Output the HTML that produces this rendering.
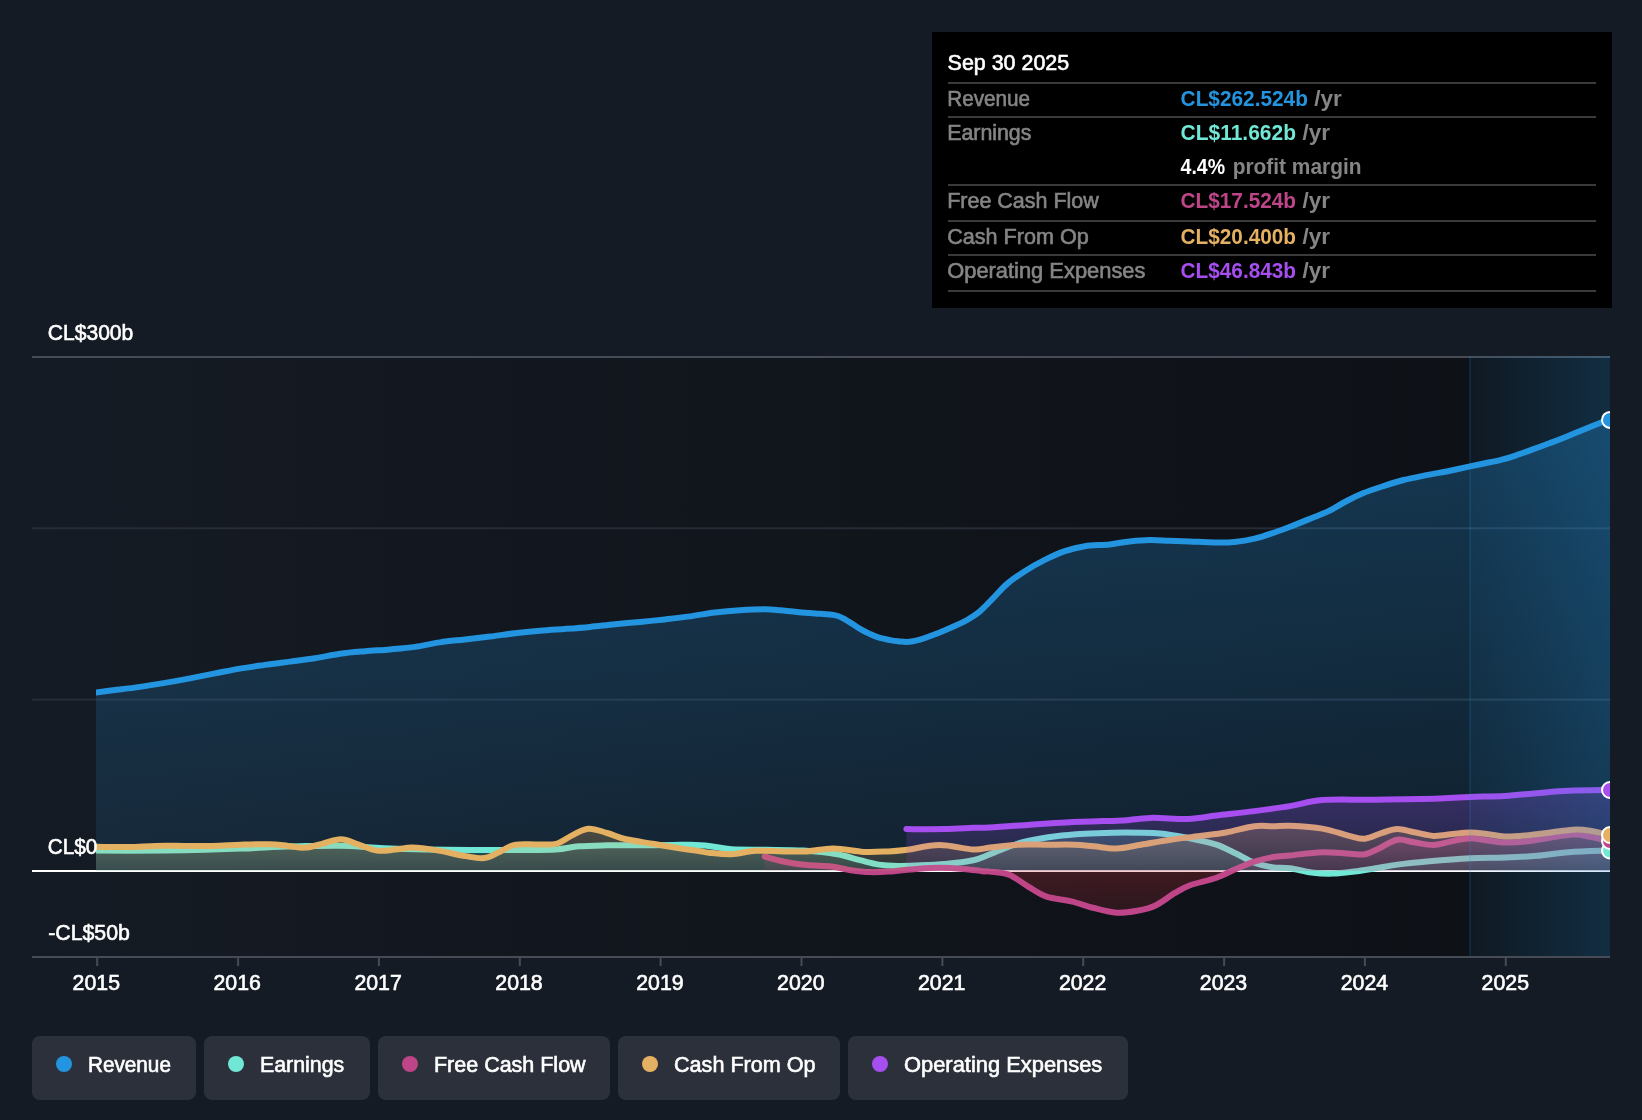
<!DOCTYPE html>
<html><head><meta charset="utf-8"><title>chart</title>
<style>html,body{margin:0;padding:0;background:#151b24;}body{width:1642px;height:1120px;overflow:hidden;position:relative;font-family:"Liberation Sans",sans-serif;}</style>
</head><body>
<svg width="1642" height="1120" viewBox="0 0 1642 1120" style="position:absolute;left:0;top:0;font-family:'Liberation Sans',sans-serif">
<defs>
<linearGradient id="gbg" x1="0" x2="1" y1="0" y2="0"><stop offset="0" stop-color="#151b24"/><stop offset="0.5" stop-color="#11151c"/><stop offset="1" stop-color="#0d1015"/></linearGradient>
<linearGradient id="ghl" x1="0" x2="1" y1="0" y2="0"><stop offset="0" stop-color="#2394df" stop-opacity="0.06"/><stop offset="1" stop-color="#2394df" stop-opacity="0.22"/></linearGradient>
<linearGradient id="grev" x1="0" x2="0" y1="0" y2="1"><stop offset="0" stop-color="#2394df" stop-opacity="0.30"/><stop offset="1" stop-color="#2394df" stop-opacity="0.11"/></linearGradient>
<linearGradient id="gearn" gradientUnits="userSpaceOnUse" x1="0" x2="0" y1="830" y2="871"><stop offset="0" stop-color="#71e7d6" stop-opacity="0.24"/><stop offset="1" stop-color="#71e7d6" stop-opacity="0.12"/></linearGradient>
<linearGradient id="gcash" gradientUnits="userSpaceOnUse" x1="0" x2="0" y1="825" y2="871"><stop offset="0" stop-color="#e4b062" stop-opacity="0.28"/><stop offset="1" stop-color="#e4b062" stop-opacity="0.12"/></linearGradient>
<linearGradient id="gfcf" gradientUnits="userSpaceOnUse" x1="0" x2="0" y1="835" y2="871"><stop offset="0" stop-color="#be4688" stop-opacity="0.24"/><stop offset="1" stop-color="#be4688" stop-opacity="0.10"/></linearGradient>
<linearGradient id="gopex" gradientUnits="userSpaceOnUse" x1="0" x2="0" y1="790" y2="871"><stop offset="0" stop-color="#a64ef0" stop-opacity="0.27"/><stop offset="1" stop-color="#a64ef0" stop-opacity="0.10"/></linearGradient>
<linearGradient id="gneg" gradientUnits="userSpaceOnUse" x1="0" x2="0" y1="871" y2="915"><stop offset="0" stop-color="#e0303a" stop-opacity="0.23"/><stop offset="1" stop-color="#e0303a" stop-opacity="0.13"/></linearGradient>
<clipPath id="cp"><rect x="96" y="300" width="1514" height="700"/></clipPath>
<clipPath id="cpos"><rect x="32" y="300" width="1578" height="571"/></clipPath>
<clipPath id="cneg"><rect x="32" y="870" width="1578" height="200"/></clipPath>
</defs>
<rect width="1642" height="1120" fill="#151b24"/>
<rect x="32" y="357" width="1578" height="600" fill="url(#gbg)"/>
<rect x="32" y="356" width="1578" height="2" fill="#464b55"/>
<rect x="32" y="527.3" width="1578" height="2" fill="#272c36"/>
<rect x="32" y="698.6" width="1578" height="2" fill="#272c36"/>
<rect x="32" y="956" width="1578" height="2" fill="#464b55"/>
<rect x="96.2" y="957" width="2" height="9" fill="#464b55"/>
<rect x="237.1" y="957" width="2" height="9" fill="#464b55"/>
<rect x="377.9" y="957" width="2" height="9" fill="#464b55"/>
<rect x="518.8" y="957" width="2" height="9" fill="#464b55"/>
<rect x="659.6" y="957" width="2" height="9" fill="#464b55"/>
<rect x="800.5" y="957" width="2" height="9" fill="#464b55"/>
<rect x="941.4" y="957" width="2" height="9" fill="#464b55"/>
<rect x="1082.2" y="957" width="2" height="9" fill="#464b55"/>
<rect x="1223.1" y="957" width="2" height="9" fill="#464b55"/>
<rect x="1363.9" y="957" width="2" height="9" fill="#464b55"/>
<rect x="1504.8" y="957" width="2" height="9" fill="#464b55"/>
<rect x="32" y="870" width="1578" height="2" fill="#ffffff"/>
<g clip-path="url(#cp)" fill="none" stroke-width="6" stroke-linecap="round" stroke-linejoin="round">
<path d="M96.0,692.4C99.2,692.0 107.7,691.0 115.0,690.1C122.3,689.2 131.7,688.1 140.0,686.9C148.3,685.7 156.7,684.3 165.0,682.9C173.3,681.5 181.7,680.0 190.0,678.4C198.3,676.8 206.7,675.0 215.0,673.4C223.3,671.8 231.7,670.0 240.0,668.6C248.3,667.2 256.7,666.1 265.0,664.9C273.3,663.7 281.7,662.7 290.0,661.6C298.3,660.5 306.7,659.5 315.0,658.2C323.3,656.9 331.7,654.9 340.0,653.7C348.3,652.5 356.7,651.9 365.0,651.2C373.3,650.5 381.7,650.1 390.0,649.4C398.3,648.7 406.7,648.1 415.0,646.9C423.3,645.7 431.7,643.6 440.0,642.4C448.3,641.1 456.7,640.4 465.0,639.4C473.3,638.4 481.7,637.6 490.0,636.6C498.3,635.6 506.7,634.2 515.0,633.2C523.3,632.2 531.7,631.4 540.0,630.7C548.3,630.0 556.7,629.5 565.0,628.9C573.3,628.3 581.7,627.7 590.0,626.9C598.3,626.1 606.7,625.0 615.0,624.2C623.3,623.4 631.7,622.7 640.0,621.9C648.3,621.1 656.7,620.3 665.0,619.4C673.3,618.5 681.7,617.6 690.0,616.4C698.3,615.2 706.7,613.4 715.0,612.4C723.3,611.4 731.7,610.7 740.0,610.2C748.3,609.7 758.3,609.3 765.0,609.3C771.7,609.3 774.7,609.8 780.0,610.3C785.3,610.8 791.2,611.6 797.0,612.1C802.8,612.6 809.5,613.0 815.0,613.4C820.5,613.8 826.2,614.1 830.0,614.5C833.8,614.9 835.5,615.2 838.0,616.0C840.5,616.8 842.5,618.0 845.0,619.4C847.5,620.8 850.1,622.5 853.0,624.3C855.9,626.1 859.5,628.6 862.3,630.2C865.1,631.8 867.6,632.9 870.0,634.0C872.4,635.1 874.5,636.0 876.9,636.8C879.3,637.6 882.1,638.3 884.5,638.9C886.9,639.5 889.1,640.0 891.5,640.4C893.9,640.8 896.5,641.1 899.0,641.4C901.5,641.6 903.9,641.9 906.2,641.9C908.5,641.9 910.6,641.6 913.0,641.2C915.4,640.8 917.8,640.3 920.8,639.4C923.8,638.5 927.4,637.2 931.0,635.8C934.6,634.4 939.0,632.7 942.7,631.2C946.4,629.7 949.4,628.4 953.0,626.8C956.6,625.2 961.4,623.0 964.6,621.4C967.8,619.8 969.5,618.6 972.0,617.0C974.5,615.4 977.0,613.8 979.3,611.9C981.6,610.0 983.6,607.9 986.0,605.5C988.4,603.1 990.3,600.9 993.9,597.3C997.5,593.6 1002.2,588.0 1007.4,583.6C1012.5,579.2 1018.6,575.2 1024.8,571.2C1031.0,567.2 1038.1,563.2 1044.8,559.9C1051.5,556.6 1058.1,553.5 1064.8,551.2C1071.5,548.9 1077.3,547.3 1084.8,546.2C1092.3,545.1 1102.2,545.2 1109.7,544.4C1117.2,543.6 1123.0,542.1 1129.7,541.4C1136.4,540.7 1143.0,540.1 1149.7,540.0C1156.4,539.9 1163.1,540.5 1169.7,540.7C1176.3,540.9 1182.1,541.1 1189.6,541.4C1197.1,541.7 1207.1,542.3 1214.6,542.4C1222.1,542.5 1227.9,542.5 1234.6,541.9C1241.3,541.3 1247.9,540.3 1254.6,538.7C1261.2,537.1 1268.6,534.5 1274.5,532.5C1280.4,530.5 1283.8,529.2 1290.0,526.8C1296.2,524.4 1305.0,520.8 1311.4,518.2C1317.8,515.6 1322.9,513.9 1328.6,511.1C1334.3,508.3 1340.0,504.5 1345.7,501.5C1351.4,498.5 1356.8,495.8 1362.9,493.3C1369.0,490.8 1375.4,488.7 1382.2,486.5C1389.0,484.3 1395.8,482.0 1403.6,480.0C1411.4,478.0 1421.6,476.2 1429.3,474.6C1437.0,473.1 1443.2,472.1 1450.0,470.7C1456.8,469.3 1464.2,467.6 1470.0,466.4C1475.8,465.1 1480.0,464.2 1485.0,463.2C1490.0,462.2 1495.2,461.4 1500.0,460.2C1504.8,459.0 1508.7,457.9 1514.0,456.1C1519.3,454.4 1526.1,451.8 1532.0,449.7C1537.9,447.6 1543.6,445.5 1549.4,443.3C1555.2,441.1 1561.2,438.9 1567.0,436.5C1572.8,434.1 1578.7,431.6 1584.5,429.2C1590.3,426.8 1597.8,423.8 1602.0,422.2C1606.2,420.6 1608.7,420.3 1610.0,419.9L1610.0,871L96.0,871Z" fill="url(#grev)" stroke="none"/>
<path d="M96.0,692.4C99.2,692.0 107.7,691.0 115.0,690.1C122.3,689.2 131.7,688.1 140.0,686.9C148.3,685.7 156.7,684.3 165.0,682.9C173.3,681.5 181.7,680.0 190.0,678.4C198.3,676.8 206.7,675.0 215.0,673.4C223.3,671.8 231.7,670.0 240.0,668.6C248.3,667.2 256.7,666.1 265.0,664.9C273.3,663.7 281.7,662.7 290.0,661.6C298.3,660.5 306.7,659.5 315.0,658.2C323.3,656.9 331.7,654.9 340.0,653.7C348.3,652.5 356.7,651.9 365.0,651.2C373.3,650.5 381.7,650.1 390.0,649.4C398.3,648.7 406.7,648.1 415.0,646.9C423.3,645.7 431.7,643.6 440.0,642.4C448.3,641.1 456.7,640.4 465.0,639.4C473.3,638.4 481.7,637.6 490.0,636.6C498.3,635.6 506.7,634.2 515.0,633.2C523.3,632.2 531.7,631.4 540.0,630.7C548.3,630.0 556.7,629.5 565.0,628.9C573.3,628.3 581.7,627.7 590.0,626.9C598.3,626.1 606.7,625.0 615.0,624.2C623.3,623.4 631.7,622.7 640.0,621.9C648.3,621.1 656.7,620.3 665.0,619.4C673.3,618.5 681.7,617.6 690.0,616.4C698.3,615.2 706.7,613.4 715.0,612.4C723.3,611.4 731.7,610.7 740.0,610.2C748.3,609.7 758.3,609.3 765.0,609.3C771.7,609.3 774.7,609.8 780.0,610.3C785.3,610.8 791.2,611.6 797.0,612.1C802.8,612.6 809.5,613.0 815.0,613.4C820.5,613.8 826.2,614.1 830.0,614.5C833.8,614.9 835.5,615.2 838.0,616.0C840.5,616.8 842.5,618.0 845.0,619.4C847.5,620.8 850.1,622.5 853.0,624.3C855.9,626.1 859.5,628.6 862.3,630.2C865.1,631.8 867.6,632.9 870.0,634.0C872.4,635.1 874.5,636.0 876.9,636.8C879.3,637.6 882.1,638.3 884.5,638.9C886.9,639.5 889.1,640.0 891.5,640.4C893.9,640.8 896.5,641.1 899.0,641.4C901.5,641.6 903.9,641.9 906.2,641.9C908.5,641.9 910.6,641.6 913.0,641.2C915.4,640.8 917.8,640.3 920.8,639.4C923.8,638.5 927.4,637.2 931.0,635.8C934.6,634.4 939.0,632.7 942.7,631.2C946.4,629.7 949.4,628.4 953.0,626.8C956.6,625.2 961.4,623.0 964.6,621.4C967.8,619.8 969.5,618.6 972.0,617.0C974.5,615.4 977.0,613.8 979.3,611.9C981.6,610.0 983.6,607.9 986.0,605.5C988.4,603.1 990.3,600.9 993.9,597.3C997.5,593.6 1002.2,588.0 1007.4,583.6C1012.5,579.2 1018.6,575.2 1024.8,571.2C1031.0,567.2 1038.1,563.2 1044.8,559.9C1051.5,556.6 1058.1,553.5 1064.8,551.2C1071.5,548.9 1077.3,547.3 1084.8,546.2C1092.3,545.1 1102.2,545.2 1109.7,544.4C1117.2,543.6 1123.0,542.1 1129.7,541.4C1136.4,540.7 1143.0,540.1 1149.7,540.0C1156.4,539.9 1163.1,540.5 1169.7,540.7C1176.3,540.9 1182.1,541.1 1189.6,541.4C1197.1,541.7 1207.1,542.3 1214.6,542.4C1222.1,542.5 1227.9,542.5 1234.6,541.9C1241.3,541.3 1247.9,540.3 1254.6,538.7C1261.2,537.1 1268.6,534.5 1274.5,532.5C1280.4,530.5 1283.8,529.2 1290.0,526.8C1296.2,524.4 1305.0,520.8 1311.4,518.2C1317.8,515.6 1322.9,513.9 1328.6,511.1C1334.3,508.3 1340.0,504.5 1345.7,501.5C1351.4,498.5 1356.8,495.8 1362.9,493.3C1369.0,490.8 1375.4,488.7 1382.2,486.5C1389.0,484.3 1395.8,482.0 1403.6,480.0C1411.4,478.0 1421.6,476.2 1429.3,474.6C1437.0,473.1 1443.2,472.1 1450.0,470.7C1456.8,469.3 1464.2,467.6 1470.0,466.4C1475.8,465.1 1480.0,464.2 1485.0,463.2C1490.0,462.2 1495.2,461.4 1500.0,460.2C1504.8,459.0 1508.7,457.9 1514.0,456.1C1519.3,454.4 1526.1,451.8 1532.0,449.7C1537.9,447.6 1543.6,445.5 1549.4,443.3C1555.2,441.1 1561.2,438.9 1567.0,436.5C1572.8,434.1 1578.7,431.6 1584.5,429.2C1590.3,426.8 1597.8,423.8 1602.0,422.2C1606.2,420.6 1608.7,420.3 1610.0,419.9" stroke="#2394df"/>
<path d="M96.0,850.5C101.3,850.5 113.1,850.7 127.8,850.7C142.5,850.7 165.5,850.6 184.4,850.3C203.3,849.9 226.8,849.1 241.0,848.6C255.2,848.1 259.5,847.6 269.3,847.2C279.1,846.8 288.1,846.4 300.0,846.2C311.9,846.0 329.7,845.6 341.0,845.8C352.3,846.0 359.7,846.7 368.0,847.2C376.3,847.7 381.3,848.2 391.0,848.6C400.7,849.0 412.8,849.2 426.0,849.4C439.2,849.6 457.7,849.9 470.0,850.0C482.3,850.1 491.3,850.0 500.0,850.0C508.7,850.0 512.7,850.2 522.0,850.1C531.3,850.0 546.5,850.1 556.0,849.5C565.5,848.9 570.3,847.0 578.8,846.3C587.3,845.6 597.6,845.5 607.0,845.3C616.4,845.1 624.4,845.4 635.4,845.3C646.4,845.2 663.9,845.0 673.0,844.9C682.1,844.8 684.0,844.5 690.0,844.7C696.0,844.9 702.0,845.1 708.9,845.9C715.8,846.7 722.1,848.6 731.5,849.3C740.9,849.9 753.5,849.6 765.5,849.8C777.5,850.0 791.3,849.9 803.3,850.6C815.3,851.3 827.9,852.6 837.3,854.2C846.7,855.8 853.0,858.5 859.9,860.2C866.8,861.9 872.5,863.7 878.8,864.6C885.1,865.5 891.4,865.8 897.7,865.9C904.0,866.0 908.6,865.8 916.5,865.5C924.4,865.2 935.4,864.9 944.9,864.0C954.4,863.1 965.7,861.8 973.2,860.2C980.7,858.6 984.0,856.5 990.0,854.2C996.0,851.9 1002.6,848.8 1008.9,846.6C1015.2,844.4 1019.9,842.7 1027.8,841.0C1035.6,839.3 1046.6,837.5 1056.0,836.3C1065.4,835.1 1075.0,834.4 1084.4,833.8C1093.9,833.2 1103.3,832.9 1112.7,832.7C1122.1,832.5 1133.1,832.6 1141.0,832.7C1148.9,832.8 1153.7,832.8 1160.0,833.4C1166.3,834.0 1172.5,835.2 1178.8,836.3C1185.1,837.4 1191.4,838.6 1197.7,840.0C1204.0,841.4 1210.2,842.5 1216.5,844.7C1222.8,846.9 1229.1,850.2 1235.4,853.2C1241.7,856.2 1248.0,860.3 1254.3,862.7C1260.6,865.1 1267.2,866.5 1273.2,867.4C1279.2,868.3 1283.6,867.4 1290.0,868.3C1296.4,869.1 1304.2,871.6 1311.4,872.5C1318.6,873.4 1325.8,873.8 1332.9,873.6C1340.1,873.4 1347.2,872.4 1354.3,871.5C1361.4,870.6 1368.5,869.4 1375.7,868.3C1382.9,867.1 1388.3,865.8 1397.2,864.6C1406.1,863.4 1417.2,862.3 1429.3,861.2C1441.4,860.1 1457.5,858.8 1470.0,858.2C1482.5,857.6 1493.3,857.9 1504.4,857.5C1515.5,857.1 1525.8,856.7 1536.5,855.8C1547.2,854.9 1556.5,853.1 1568.7,852.2C1581.0,851.3 1603.1,850.8 1610.0,850.5L1610.0,871L96.0,871Z" fill="url(#gearn)" stroke="none"/>
<path d="M96.0,850.5C101.3,850.5 113.1,850.7 127.8,850.7C142.5,850.7 165.5,850.6 184.4,850.3C203.3,849.9 226.8,849.1 241.0,848.6C255.2,848.1 259.5,847.6 269.3,847.2C279.1,846.8 288.1,846.4 300.0,846.2C311.9,846.0 329.7,845.6 341.0,845.8C352.3,846.0 359.7,846.7 368.0,847.2C376.3,847.7 381.3,848.2 391.0,848.6C400.7,849.0 412.8,849.2 426.0,849.4C439.2,849.6 457.7,849.9 470.0,850.0C482.3,850.1 491.3,850.0 500.0,850.0C508.7,850.0 512.7,850.2 522.0,850.1C531.3,850.0 546.5,850.1 556.0,849.5C565.5,848.9 570.3,847.0 578.8,846.3C587.3,845.6 597.6,845.5 607.0,845.3C616.4,845.1 624.4,845.4 635.4,845.3C646.4,845.2 663.9,845.0 673.0,844.9C682.1,844.8 684.0,844.5 690.0,844.7C696.0,844.9 702.0,845.1 708.9,845.9C715.8,846.7 722.1,848.6 731.5,849.3C740.9,849.9 753.5,849.6 765.5,849.8C777.5,850.0 791.3,849.9 803.3,850.6C815.3,851.3 827.9,852.6 837.3,854.2C846.7,855.8 853.0,858.5 859.9,860.2C866.8,861.9 872.5,863.7 878.8,864.6C885.1,865.5 891.4,865.8 897.7,865.9C904.0,866.0 908.6,865.8 916.5,865.5C924.4,865.2 935.4,864.9 944.9,864.0C954.4,863.1 965.7,861.8 973.2,860.2C980.7,858.6 984.0,856.5 990.0,854.2C996.0,851.9 1002.6,848.8 1008.9,846.6C1015.2,844.4 1019.9,842.7 1027.8,841.0C1035.6,839.3 1046.6,837.5 1056.0,836.3C1065.4,835.1 1075.0,834.4 1084.4,833.8C1093.9,833.2 1103.3,832.9 1112.7,832.7C1122.1,832.5 1133.1,832.6 1141.0,832.7C1148.9,832.8 1153.7,832.8 1160.0,833.4C1166.3,834.0 1172.5,835.2 1178.8,836.3C1185.1,837.4 1191.4,838.6 1197.7,840.0C1204.0,841.4 1210.2,842.5 1216.5,844.7C1222.8,846.9 1229.1,850.2 1235.4,853.2C1241.7,856.2 1248.0,860.3 1254.3,862.7C1260.6,865.1 1267.2,866.5 1273.2,867.4C1279.2,868.3 1283.6,867.4 1290.0,868.3C1296.4,869.1 1304.2,871.6 1311.4,872.5C1318.6,873.4 1325.8,873.8 1332.9,873.6C1340.1,873.4 1347.2,872.4 1354.3,871.5C1361.4,870.6 1368.5,869.4 1375.7,868.3C1382.9,867.1 1388.3,865.8 1397.2,864.6C1406.1,863.4 1417.2,862.3 1429.3,861.2C1441.4,860.1 1457.5,858.8 1470.0,858.2C1482.5,857.6 1493.3,857.9 1504.4,857.5C1515.5,857.1 1525.8,856.7 1536.5,855.8C1547.2,854.9 1556.5,853.1 1568.7,852.2C1581.0,851.3 1603.1,850.8 1610.0,850.5" stroke="#71e7d6"/>
<path d="M764.6,856.5C767.9,857.4 777.3,860.3 784.4,861.7C791.5,863.1 799.1,864.3 807.0,865.1C814.9,865.9 824.4,865.6 831.6,866.5C838.9,867.4 844.2,869.3 850.5,870.2C856.8,871.1 863.1,871.9 869.4,872.1C875.7,872.3 880.4,872.1 888.2,871.6C896.1,871.1 908.0,869.5 916.5,868.9C925.0,868.3 931.3,867.8 939.2,867.8C947.1,867.8 956.5,868.3 963.7,868.9C970.9,869.5 978.2,870.8 982.6,871.2C987.0,871.7 985.6,871.0 990.0,871.6C994.4,872.2 1002.6,872.2 1008.9,874.6C1015.2,877.0 1021.5,882.6 1027.8,886.3C1034.1,890.0 1039.4,894.2 1046.6,896.7C1053.8,899.2 1063.3,899.5 1071.2,901.4C1079.1,903.3 1086.2,906.1 1093.8,908.0C1101.3,909.9 1109.2,912.2 1116.5,912.7C1123.8,913.2 1130.7,912.0 1137.3,910.8C1143.9,909.5 1149.8,908.2 1156.1,905.2C1162.4,902.2 1169.3,896.2 1175.0,892.9C1180.7,889.6 1183.2,887.8 1190.1,885.3C1197.0,882.8 1209.0,880.5 1216.5,877.8C1224.0,875.1 1229.1,872.0 1235.4,869.3C1241.7,866.6 1248.0,863.8 1254.3,861.7C1260.6,859.7 1267.2,858.0 1273.2,857.0C1279.2,856.0 1281.8,856.2 1290.0,855.4C1298.2,854.6 1312.2,852.5 1322.2,852.2C1332.2,851.9 1342.9,853.4 1350.0,853.7C1357.1,854.1 1360.0,855.3 1365.0,854.3C1370.0,853.3 1374.6,850.3 1380.0,847.9C1385.4,845.5 1391.5,840.6 1397.2,839.7C1402.9,838.8 1408.2,841.4 1414.3,842.3C1420.4,843.2 1427.2,845.2 1433.6,845.0C1440.0,844.8 1446.8,842.1 1452.9,841.0C1459.0,839.9 1464.3,838.3 1470.0,838.2C1475.7,838.1 1481.5,839.7 1487.2,840.4C1492.9,841.1 1498.0,842.3 1504.4,842.5C1510.8,842.7 1518.7,842.2 1525.8,841.5C1532.9,840.8 1539.3,839.4 1547.2,838.2C1555.1,837.1 1565.8,834.9 1573.0,834.6C1580.2,834.4 1583.9,835.6 1590.1,836.7C1596.3,837.8 1606.7,840.3 1610.0,841.0L1610.0,871L764.6,871Z" fill="url(#gfcf)" stroke="none" clip-path="url(#cpos)"/>
<path d="M764.6,856.5C767.9,857.4 777.3,860.3 784.4,861.7C791.5,863.1 799.1,864.3 807.0,865.1C814.9,865.9 824.4,865.6 831.6,866.5C838.9,867.4 844.2,869.3 850.5,870.2C856.8,871.1 863.1,871.9 869.4,872.1C875.7,872.3 880.4,872.1 888.2,871.6C896.1,871.1 908.0,869.5 916.5,868.9C925.0,868.3 931.3,867.8 939.2,867.8C947.1,867.8 956.5,868.3 963.7,868.9C970.9,869.5 978.2,870.8 982.6,871.2C987.0,871.7 985.6,871.0 990.0,871.6C994.4,872.2 1002.6,872.2 1008.9,874.6C1015.2,877.0 1021.5,882.6 1027.8,886.3C1034.1,890.0 1039.4,894.2 1046.6,896.7C1053.8,899.2 1063.3,899.5 1071.2,901.4C1079.1,903.3 1086.2,906.1 1093.8,908.0C1101.3,909.9 1109.2,912.2 1116.5,912.7C1123.8,913.2 1130.7,912.0 1137.3,910.8C1143.9,909.5 1149.8,908.2 1156.1,905.2C1162.4,902.2 1169.3,896.2 1175.0,892.9C1180.7,889.6 1183.2,887.8 1190.1,885.3C1197.0,882.8 1209.0,880.5 1216.5,877.8C1224.0,875.1 1229.1,872.0 1235.4,869.3C1241.7,866.6 1248.0,863.8 1254.3,861.7C1260.6,859.7 1267.2,858.0 1273.2,857.0C1279.2,856.0 1281.8,856.2 1290.0,855.4C1298.2,854.6 1312.2,852.5 1322.2,852.2C1332.2,851.9 1342.9,853.4 1350.0,853.7C1357.1,854.1 1360.0,855.3 1365.0,854.3C1370.0,853.3 1374.6,850.3 1380.0,847.9C1385.4,845.5 1391.5,840.6 1397.2,839.7C1402.9,838.8 1408.2,841.4 1414.3,842.3C1420.4,843.2 1427.2,845.2 1433.6,845.0C1440.0,844.8 1446.8,842.1 1452.9,841.0C1459.0,839.9 1464.3,838.3 1470.0,838.2C1475.7,838.1 1481.5,839.7 1487.2,840.4C1492.9,841.1 1498.0,842.3 1504.4,842.5C1510.8,842.7 1518.7,842.2 1525.8,841.5C1532.9,840.8 1539.3,839.4 1547.2,838.2C1555.1,837.1 1565.8,834.9 1573.0,834.6C1580.2,834.4 1583.9,835.6 1590.1,836.7C1596.3,837.8 1606.7,840.3 1610.0,841.0L1610.0,870L764.6,870Z" fill="url(#gneg)" stroke="none" clip-path="url(#cneg)"/>
<path d="M764.6,856.5C767.9,857.4 777.3,860.3 784.4,861.7C791.5,863.1 799.1,864.3 807.0,865.1C814.9,865.9 824.4,865.6 831.6,866.5C838.9,867.4 844.2,869.3 850.5,870.2C856.8,871.1 863.1,871.9 869.4,872.1C875.7,872.3 880.4,872.1 888.2,871.6C896.1,871.1 908.0,869.5 916.5,868.9C925.0,868.3 931.3,867.8 939.2,867.8C947.1,867.8 956.5,868.3 963.7,868.9C970.9,869.5 978.2,870.8 982.6,871.2C987.0,871.7 985.6,871.0 990.0,871.6C994.4,872.2 1002.6,872.2 1008.9,874.6C1015.2,877.0 1021.5,882.6 1027.8,886.3C1034.1,890.0 1039.4,894.2 1046.6,896.7C1053.8,899.2 1063.3,899.5 1071.2,901.4C1079.1,903.3 1086.2,906.1 1093.8,908.0C1101.3,909.9 1109.2,912.2 1116.5,912.7C1123.8,913.2 1130.7,912.0 1137.3,910.8C1143.9,909.5 1149.8,908.2 1156.1,905.2C1162.4,902.2 1169.3,896.2 1175.0,892.9C1180.7,889.6 1183.2,887.8 1190.1,885.3C1197.0,882.8 1209.0,880.5 1216.5,877.8C1224.0,875.1 1229.1,872.0 1235.4,869.3C1241.7,866.6 1248.0,863.8 1254.3,861.7C1260.6,859.7 1267.2,858.0 1273.2,857.0C1279.2,856.0 1281.8,856.2 1290.0,855.4C1298.2,854.6 1312.2,852.5 1322.2,852.2C1332.2,851.9 1342.9,853.4 1350.0,853.7C1357.1,854.1 1360.0,855.3 1365.0,854.3C1370.0,853.3 1374.6,850.3 1380.0,847.9C1385.4,845.5 1391.5,840.6 1397.2,839.7C1402.9,838.8 1408.2,841.4 1414.3,842.3C1420.4,843.2 1427.2,845.2 1433.6,845.0C1440.0,844.8 1446.8,842.1 1452.9,841.0C1459.0,839.9 1464.3,838.3 1470.0,838.2C1475.7,838.1 1481.5,839.7 1487.2,840.4C1492.9,841.1 1498.0,842.3 1504.4,842.5C1510.8,842.7 1518.7,842.2 1525.8,841.5C1532.9,840.8 1539.3,839.4 1547.2,838.2C1555.1,837.1 1565.8,834.9 1573.0,834.6C1580.2,834.4 1583.9,835.6 1590.1,836.7C1596.3,837.8 1606.7,840.3 1610.0,841.0" stroke="#be4688"/>
<path d="M96.0,846.8C101.3,846.8 117.8,847.1 127.8,847.0C137.8,846.9 146.6,846.1 156.0,845.9C165.4,845.7 175.0,845.9 184.4,845.9C193.8,845.9 203.3,846.1 212.7,845.9C222.1,845.7 231.6,845.0 241.0,844.7C250.4,844.4 261.4,844.0 269.3,844.2C277.2,844.4 282.2,845.3 288.2,845.9C294.2,846.5 299.5,848.0 305.2,847.6C310.9,847.2 316.2,845.2 322.2,843.8C328.2,842.4 335.0,839.2 341.0,839.3C347.0,839.4 352.0,842.5 358.0,844.4C364.0,846.3 370.8,849.7 377.0,850.6C383.2,851.5 389.1,850.1 395.0,849.6C400.9,849.1 405.7,847.5 412.7,847.6C419.7,847.7 428.4,849.0 437.2,850.4C446.0,851.8 457.6,854.8 465.5,856.1C473.4,857.4 478.7,858.8 484.4,858.1C490.1,857.4 494.5,854.1 499.5,851.9C504.5,849.7 508.3,846.1 514.6,844.9C520.9,843.6 530.4,844.6 537.3,844.4C544.2,844.2 550.5,845.2 556.1,843.8C561.8,842.4 565.9,838.4 571.2,835.9C576.6,833.4 582.2,829.2 588.2,828.7C594.2,828.2 600.8,831.2 607.1,833.0C613.4,834.8 618.1,837.5 626.0,839.3C633.9,841.1 644.9,842.4 654.3,844.0C663.7,845.6 675.0,847.5 682.6,848.7C690.2,849.9 695.6,850.5 700.0,851.2C704.4,851.9 703.6,852.2 708.9,852.7C714.1,853.2 723.6,854.5 731.5,854.2C739.4,853.9 747.2,851.3 756.0,850.8C764.8,850.3 775.9,851.3 784.4,851.4C792.9,851.5 798.8,851.9 807.0,851.4C815.2,850.9 824.0,848.4 833.5,848.5C843.0,848.6 854.6,851.4 863.7,851.9C872.8,852.4 881.3,851.7 888.2,851.4C895.1,851.1 896.7,851.0 905.2,850.0C913.7,849.0 927.9,845.2 939.2,845.1C950.5,845.0 964.7,849.1 973.2,849.5C981.7,849.9 982.5,848.4 990.0,847.6C997.5,846.8 1008.9,845.2 1018.3,844.7C1027.7,844.2 1037.1,844.7 1046.6,844.7C1056.0,844.7 1067.1,844.4 1075.0,844.7C1082.9,845.0 1086.9,845.7 1093.8,846.3C1100.7,846.9 1108.6,848.8 1116.5,848.5C1124.4,848.2 1132.2,846.1 1141.0,844.7C1149.8,843.3 1159.8,841.4 1169.3,840.0C1178.8,838.6 1188.2,837.5 1197.7,836.3C1207.2,835.0 1216.6,834.2 1226.0,832.5C1235.4,830.8 1246.4,827.2 1254.3,826.2C1262.2,825.2 1267.2,826.3 1273.2,826.2C1279.2,826.1 1281.8,825.4 1290.0,825.8C1298.2,826.2 1312.2,826.9 1322.2,828.6C1332.2,830.3 1342.9,834.4 1350.0,836.1C1357.1,837.8 1359.6,839.2 1365.0,838.7C1370.4,838.2 1376.8,834.5 1382.2,832.9C1387.6,831.3 1391.9,829.1 1397.2,829.0C1402.5,828.9 1408.2,831.1 1414.3,832.3C1420.4,833.4 1427.2,835.6 1433.6,835.9C1440.0,836.2 1446.8,834.6 1452.9,834.0C1459.0,833.4 1464.3,832.5 1470.0,832.5C1475.7,832.5 1481.5,833.3 1487.2,834.0C1492.9,834.7 1498.0,836.2 1504.4,836.5C1510.8,836.8 1518.7,836.1 1525.8,835.5C1532.9,834.9 1539.3,833.9 1547.2,832.9C1555.1,831.9 1565.8,830.1 1573.0,829.7C1580.2,829.3 1583.9,829.8 1590.1,830.7C1596.3,831.6 1606.7,834.3 1610.0,835.0L1610.0,871L96.0,871Z" fill="url(#gcash)" stroke="none"/>
<path d="M96.0,846.8C101.3,846.8 117.8,847.1 127.8,847.0C137.8,846.9 146.6,846.1 156.0,845.9C165.4,845.7 175.0,845.9 184.4,845.9C193.8,845.9 203.3,846.1 212.7,845.9C222.1,845.7 231.6,845.0 241.0,844.7C250.4,844.4 261.4,844.0 269.3,844.2C277.2,844.4 282.2,845.3 288.2,845.9C294.2,846.5 299.5,848.0 305.2,847.6C310.9,847.2 316.2,845.2 322.2,843.8C328.2,842.4 335.0,839.2 341.0,839.3C347.0,839.4 352.0,842.5 358.0,844.4C364.0,846.3 370.8,849.7 377.0,850.6C383.2,851.5 389.1,850.1 395.0,849.6C400.9,849.1 405.7,847.5 412.7,847.6C419.7,847.7 428.4,849.0 437.2,850.4C446.0,851.8 457.6,854.8 465.5,856.1C473.4,857.4 478.7,858.8 484.4,858.1C490.1,857.4 494.5,854.1 499.5,851.9C504.5,849.7 508.3,846.1 514.6,844.9C520.9,843.6 530.4,844.6 537.3,844.4C544.2,844.2 550.5,845.2 556.1,843.8C561.8,842.4 565.9,838.4 571.2,835.9C576.6,833.4 582.2,829.2 588.2,828.7C594.2,828.2 600.8,831.2 607.1,833.0C613.4,834.8 618.1,837.5 626.0,839.3C633.9,841.1 644.9,842.4 654.3,844.0C663.7,845.6 675.0,847.5 682.6,848.7C690.2,849.9 695.6,850.5 700.0,851.2C704.4,851.9 703.6,852.2 708.9,852.7C714.1,853.2 723.6,854.5 731.5,854.2C739.4,853.9 747.2,851.3 756.0,850.8C764.8,850.3 775.9,851.3 784.4,851.4C792.9,851.5 798.8,851.9 807.0,851.4C815.2,850.9 824.0,848.4 833.5,848.5C843.0,848.6 854.6,851.4 863.7,851.9C872.8,852.4 881.3,851.7 888.2,851.4C895.1,851.1 896.7,851.0 905.2,850.0C913.7,849.0 927.9,845.2 939.2,845.1C950.5,845.0 964.7,849.1 973.2,849.5C981.7,849.9 982.5,848.4 990.0,847.6C997.5,846.8 1008.9,845.2 1018.3,844.7C1027.7,844.2 1037.1,844.7 1046.6,844.7C1056.0,844.7 1067.1,844.4 1075.0,844.7C1082.9,845.0 1086.9,845.7 1093.8,846.3C1100.7,846.9 1108.6,848.8 1116.5,848.5C1124.4,848.2 1132.2,846.1 1141.0,844.7C1149.8,843.3 1159.8,841.4 1169.3,840.0C1178.8,838.6 1188.2,837.5 1197.7,836.3C1207.2,835.0 1216.6,834.2 1226.0,832.5C1235.4,830.8 1246.4,827.2 1254.3,826.2C1262.2,825.2 1267.2,826.3 1273.2,826.2C1279.2,826.1 1281.8,825.4 1290.0,825.8C1298.2,826.2 1312.2,826.9 1322.2,828.6C1332.2,830.3 1342.9,834.4 1350.0,836.1C1357.1,837.8 1359.6,839.2 1365.0,838.7C1370.4,838.2 1376.8,834.5 1382.2,832.9C1387.6,831.3 1391.9,829.1 1397.2,829.0C1402.5,828.9 1408.2,831.1 1414.3,832.3C1420.4,833.4 1427.2,835.6 1433.6,835.9C1440.0,836.2 1446.8,834.6 1452.9,834.0C1459.0,833.4 1464.3,832.5 1470.0,832.5C1475.7,832.5 1481.5,833.3 1487.2,834.0C1492.9,834.7 1498.0,836.2 1504.4,836.5C1510.8,836.8 1518.7,836.1 1525.8,835.5C1532.9,834.9 1539.3,833.9 1547.2,832.9C1555.1,831.9 1565.8,830.1 1573.0,829.7C1580.2,829.3 1583.9,829.8 1590.1,830.7C1596.3,831.6 1606.7,834.3 1610.0,835.0" stroke="#e4b062"/>
<path d="M906.4,829.1C912.8,829.1 933.8,829.3 944.9,829.1C956.0,828.9 965.7,828.1 973.2,827.8C980.7,827.5 980.9,827.9 990.0,827.4C999.1,826.9 1015.2,825.7 1027.8,824.9C1040.4,824.1 1052.9,823.1 1065.5,822.5C1078.1,821.9 1093.8,821.4 1103.3,821.1C1112.8,820.8 1114.3,821.1 1122.2,820.6C1130.1,820.1 1139.5,818.2 1150.5,817.9C1161.5,817.6 1177.2,819.3 1188.2,818.9C1199.2,818.5 1205.5,816.8 1216.5,815.5C1227.5,814.2 1242.0,812.7 1254.3,811.1C1266.5,809.5 1278.7,807.9 1290.0,806.1C1301.3,804.3 1307.9,801.2 1322.2,800.1C1336.5,799.0 1356.1,800.0 1375.7,799.7C1395.3,799.5 1424.3,799.1 1440.0,798.6C1455.7,798.1 1459.3,797.3 1470.0,796.9C1480.7,796.5 1493.3,796.6 1504.4,796.0C1515.5,795.4 1525.8,794.1 1536.5,793.2C1547.2,792.3 1556.5,791.2 1568.7,790.7C1581.0,790.2 1603.1,790.1 1610.0,790.0L1610.0,871L906.4,871Z" fill="url(#gopex)" stroke="none"/>
<path d="M906.4,829.1C912.8,829.1 933.8,829.3 944.9,829.1C956.0,828.9 965.7,828.1 973.2,827.8C980.7,827.5 980.9,827.9 990.0,827.4C999.1,826.9 1015.2,825.7 1027.8,824.9C1040.4,824.1 1052.9,823.1 1065.5,822.5C1078.1,821.9 1093.8,821.4 1103.3,821.1C1112.8,820.8 1114.3,821.1 1122.2,820.6C1130.1,820.1 1139.5,818.2 1150.5,817.9C1161.5,817.6 1177.2,819.3 1188.2,818.9C1199.2,818.5 1205.5,816.8 1216.5,815.5C1227.5,814.2 1242.0,812.7 1254.3,811.1C1266.5,809.5 1278.7,807.9 1290.0,806.1C1301.3,804.3 1307.9,801.2 1322.2,800.1C1336.5,799.0 1356.1,800.0 1375.7,799.7C1395.3,799.5 1424.3,799.1 1440.0,798.6C1455.7,798.1 1459.3,797.3 1470.0,796.9C1480.7,796.5 1493.3,796.6 1504.4,796.0C1515.5,795.4 1525.8,794.1 1536.5,793.2C1547.2,792.3 1556.5,791.2 1568.7,790.7C1581.0,790.2 1603.1,790.1 1610.0,790.0" stroke="#a64ef0"/>
<rect x="1470" y="356" width="140" height="600" fill="url(#ghl)"/>
<rect x="1469" y="356" width="2" height="600" fill="#2394df" opacity="0.15"/>
<circle cx="1610" cy="419.9" r="8" fill="#2394df" stroke="#fff" stroke-width="2"/>
<circle cx="1610" cy="850.5" r="8" fill="#71e7d6" stroke="#fff" stroke-width="2"/>
<circle cx="1610" cy="841.0" r="8" fill="#be4688" stroke="#fff" stroke-width="2"/>
<circle cx="1610" cy="835.0" r="8" fill="#e4b062" stroke="#fff" stroke-width="2"/>
<circle cx="1610" cy="790.0" r="8" fill="#a64ef0" stroke="#fff" stroke-width="2"/>
</g>
<g style="will-change:transform">
<text x="47.8" y="339.7" font-size="21.3" fill="#fff" stroke="#fff" stroke-width="0.6" font-weight="400" text-anchor="start" textLength="85.5" lengthAdjust="spacingAndGlyphs">CL$300b</text>
<text x="47.8" y="853.9" font-size="21.3" fill="#fff" stroke="#fff" stroke-width="0.6" font-weight="400" text-anchor="start" textLength="49.5" lengthAdjust="spacingAndGlyphs">CL$0</text>
<text x="48.2" y="940" font-size="21.3" fill="#fff" stroke="#fff" stroke-width="0.6" font-weight="400" text-anchor="start" textLength="81.7" lengthAdjust="spacingAndGlyphs">-CL$50b</text>
<text x="72.6" y="990" font-size="21.3" fill="#fff" stroke="#fff" stroke-width="0.6" font-weight="400" text-anchor="start" textLength="47.4" lengthAdjust="spacingAndGlyphs">2015</text>
<text x="213.5" y="990" font-size="21.3" fill="#fff" stroke="#fff" stroke-width="0.6" font-weight="400" text-anchor="start" textLength="47.4" lengthAdjust="spacingAndGlyphs">2016</text>
<text x="354.4" y="990" font-size="21.3" fill="#fff" stroke="#fff" stroke-width="0.6" font-weight="400" text-anchor="start" textLength="47.4" lengthAdjust="spacingAndGlyphs">2017</text>
<text x="495.3" y="990" font-size="21.3" fill="#fff" stroke="#fff" stroke-width="0.6" font-weight="400" text-anchor="start" textLength="47.4" lengthAdjust="spacingAndGlyphs">2018</text>
<text x="636.2" y="990" font-size="21.3" fill="#fff" stroke="#fff" stroke-width="0.6" font-weight="400" text-anchor="start" textLength="47.4" lengthAdjust="spacingAndGlyphs">2019</text>
<text x="777.1" y="990" font-size="21.3" fill="#fff" stroke="#fff" stroke-width="0.6" font-weight="400" text-anchor="start" textLength="47.4" lengthAdjust="spacingAndGlyphs">2020</text>
<text x="918.0" y="990" font-size="21.3" fill="#fff" stroke="#fff" stroke-width="0.6" font-weight="400" text-anchor="start" textLength="47.4" lengthAdjust="spacingAndGlyphs">2021</text>
<text x="1058.9" y="990" font-size="21.3" fill="#fff" stroke="#fff" stroke-width="0.6" font-weight="400" text-anchor="start" textLength="47.4" lengthAdjust="spacingAndGlyphs">2022</text>
<text x="1199.8" y="990" font-size="21.3" fill="#fff" stroke="#fff" stroke-width="0.6" font-weight="400" text-anchor="start" textLength="47.4" lengthAdjust="spacingAndGlyphs">2023</text>
<text x="1340.7" y="990" font-size="21.3" fill="#fff" stroke="#fff" stroke-width="0.6" font-weight="400" text-anchor="start" textLength="47.4" lengthAdjust="spacingAndGlyphs">2024</text>
<text x="1481.6" y="990" font-size="21.3" fill="#fff" stroke="#fff" stroke-width="0.6" font-weight="400" text-anchor="start" textLength="47.4" lengthAdjust="spacingAndGlyphs">2025</text>
<rect x="932" y="32" width="680" height="276" fill="#000"/>
<text x="947.6" y="70" font-size="21.3" fill="#fff" stroke="#fff" stroke-width="0.6" font-weight="400" text-anchor="start" textLength="121.6" lengthAdjust="spacingAndGlyphs">Sep 30 2025</text>
<rect x="948" y="82" width="648" height="2" fill="#3a3a3a"/>
<rect x="948" y="116" width="648" height="2" fill="#3a3a3a"/>
<rect x="948" y="184" width="648" height="2" fill="#3a3a3a"/>
<rect x="948" y="220" width="648" height="2" fill="#3a3a3a"/>
<rect x="948" y="254" width="648" height="2" fill="#3a3a3a"/>
<rect x="948" y="290" width="648" height="2" fill="#3a3a3a"/>
<text x="947.2" y="105.8" font-size="21.3" fill="#858585" stroke="#858585" stroke-width="0.6" font-weight="400" text-anchor="start" textLength="82.9" lengthAdjust="spacingAndGlyphs">Revenue</text>
<text x="1180.6" y="105.8" font-size="21.3" fill="#2394df" stroke="#2394df" stroke-width="0" font-weight="700" text-anchor="start" textLength="127.3" lengthAdjust="spacingAndGlyphs">CL$262.524b</text>
<text x="1314.3" y="105.8" font-size="21.3" fill="#858585" stroke="#858585" stroke-width="0" font-weight="700" text-anchor="start" textLength="27.6" lengthAdjust="spacingAndGlyphs">/yr</text>
<text x="947.2" y="139.9" font-size="21.3" fill="#858585" stroke="#858585" stroke-width="0.6" font-weight="400" text-anchor="start" textLength="84.2" lengthAdjust="spacingAndGlyphs">Earnings</text>
<text x="1180.6" y="139.9" font-size="21.3" fill="#71e7d6" stroke="#71e7d6" stroke-width="0" font-weight="700" text-anchor="start" textLength="115.4" lengthAdjust="spacingAndGlyphs">CL$11.662b</text>
<text x="1302.4" y="139.9" font-size="21.3" fill="#858585" stroke="#858585" stroke-width="0" font-weight="700" text-anchor="start" textLength="27.6" lengthAdjust="spacingAndGlyphs">/yr</text>
<text x="947.2" y="207.9" font-size="21.3" fill="#858585" stroke="#858585" stroke-width="0.6" font-weight="400" text-anchor="start" textLength="151.6" lengthAdjust="spacingAndGlyphs">Free Cash Flow</text>
<text x="1180.6" y="207.9" font-size="21.3" fill="#be4688" stroke="#be4688" stroke-width="0" font-weight="700" text-anchor="start" textLength="115.4" lengthAdjust="spacingAndGlyphs">CL$17.524b</text>
<text x="1302.4" y="207.9" font-size="21.3" fill="#858585" stroke="#858585" stroke-width="0" font-weight="700" text-anchor="start" textLength="27.6" lengthAdjust="spacingAndGlyphs">/yr</text>
<text x="947.2" y="244.1" font-size="21.3" fill="#858585" stroke="#858585" stroke-width="0.6" font-weight="400" text-anchor="start" textLength="141.6" lengthAdjust="spacingAndGlyphs">Cash From Op</text>
<text x="1180.6" y="244.1" font-size="21.3" fill="#e4b062" stroke="#e4b062" stroke-width="0" font-weight="700" text-anchor="start" textLength="115.4" lengthAdjust="spacingAndGlyphs">CL$20.400b</text>
<text x="1302.4" y="244.1" font-size="21.3" fill="#858585" stroke="#858585" stroke-width="0" font-weight="700" text-anchor="start" textLength="27.6" lengthAdjust="spacingAndGlyphs">/yr</text>
<text x="947.2" y="277.8" font-size="21.3" fill="#858585" stroke="#858585" stroke-width="0.6" font-weight="400" text-anchor="start" textLength="198.3" lengthAdjust="spacingAndGlyphs">Operating Expenses</text>
<text x="1180.6" y="277.8" font-size="21.3" fill="#a64ef0" stroke="#a64ef0" stroke-width="0" font-weight="700" text-anchor="start" textLength="115.4" lengthAdjust="spacingAndGlyphs">CL$46.843b</text>
<text x="1302.4" y="277.8" font-size="21.3" fill="#858585" stroke="#858585" stroke-width="0" font-weight="700" text-anchor="start" textLength="27.6" lengthAdjust="spacingAndGlyphs">/yr</text>
<text x="1180.6" y="174.2" font-size="21.3" fill="#fff" stroke="#fff" stroke-width="0" font-weight="700" text-anchor="start" textLength="44.5" lengthAdjust="spacingAndGlyphs">4.4%</text>
<text x="1232.7" y="174.2" font-size="21.3" fill="#858585" stroke="#858585" stroke-width="0" font-weight="700" text-anchor="start" textLength="128.8" lengthAdjust="spacingAndGlyphs">profit margin</text>
<rect x="32" y="1036" width="164" height="64" rx="8" fill="#2c303a"/>
<circle cx="64" cy="1064" r="8" fill="#2394df"/>
<text x="88" y="1072" font-size="21.3" fill="#fff" stroke="#fff" stroke-width="0.6" font-weight="400" text-anchor="start" textLength="82.9" lengthAdjust="spacingAndGlyphs">Revenue</text>
<rect x="204" y="1036" width="166" height="64" rx="8" fill="#2c303a"/>
<circle cx="236" cy="1064" r="8" fill="#71e7d6"/>
<text x="260" y="1072" font-size="21.3" fill="#fff" stroke="#fff" stroke-width="0.6" font-weight="400" text-anchor="start" textLength="84.2" lengthAdjust="spacingAndGlyphs">Earnings</text>
<rect x="378" y="1036" width="232" height="64" rx="8" fill="#2c303a"/>
<circle cx="410" cy="1064" r="8" fill="#be4688"/>
<text x="434" y="1072" font-size="21.3" fill="#fff" stroke="#fff" stroke-width="0.6" font-weight="400" text-anchor="start" textLength="151.6" lengthAdjust="spacingAndGlyphs">Free Cash Flow</text>
<rect x="618" y="1036" width="222" height="64" rx="8" fill="#2c303a"/>
<circle cx="650" cy="1064" r="8" fill="#e4b062"/>
<text x="674" y="1072" font-size="21.3" fill="#fff" stroke="#fff" stroke-width="0.6" font-weight="400" text-anchor="start" textLength="141.6" lengthAdjust="spacingAndGlyphs">Cash From Op</text>
<rect x="848" y="1036" width="280" height="64" rx="8" fill="#2c303a"/>
<circle cx="880" cy="1064" r="8" fill="#a64ef0"/>
<text x="904" y="1072" font-size="21.3" fill="#fff" stroke="#fff" stroke-width="0.6" font-weight="400" text-anchor="start" textLength="198.3" lengthAdjust="spacingAndGlyphs">Operating Expenses</text>
</g>
</svg>
</body></html>
